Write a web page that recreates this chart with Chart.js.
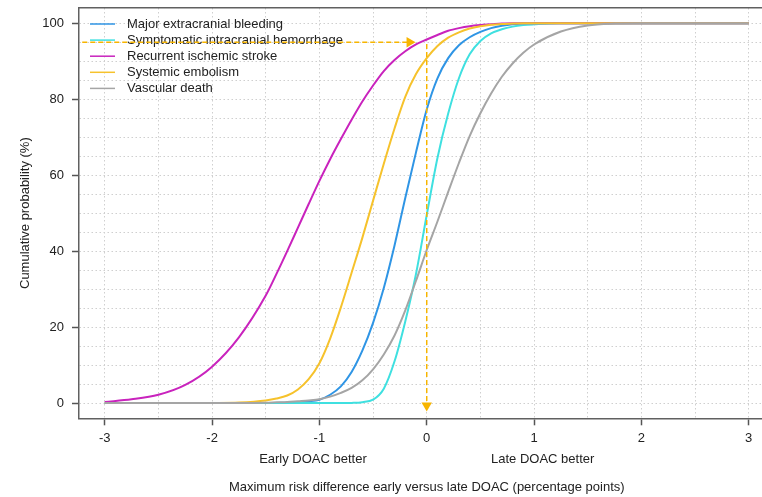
<!DOCTYPE html>
<html>
<head>
<meta charset="utf-8">
<script src="https://cdn.jsdelivr.net/npm/chart.js@4.4.1/dist/chart.umd.min.js"></script>
<style>
  html, body { margin: 0; padding: 0; background: #fff; overflow: hidden; }
  canvas { display: block; }
</style>
</head>
<body>
<canvas id="cdf-chart" width="762" height="497"></canvas>
<script>
// Risk difference grid (percentage points) shared by all curves
const riskDiff = [-3, -2.75, -2.5, -2.25, -2, -1.75, -1.5, -1.4, -1.3, -1.2, -1.1, -1, -0.9, -0.8, -0.7, -0.6, -0.5, -0.4, -0.3, -0.2, -0.1,
  0, 0.1, 0.2, 0.3, 0.4, 0.5, 0.6, 0.7, 0.8, 0.9, 1, 1.25, 1.5, 1.75, 2, 2.5, 3];

// Cumulative probability (%) per outcome
const extracranialBleeding = [0, 0, 0, 0, 0, 0, 0, 0.05, 0.1, 0.2, 0.45, 0.9, 2.2, 4.4, 8.2, 13.8, 21.1, 30.3, 41.5, 54, 66,
  77.3, 85.5, 90.8, 94.2, 96.3, 97.7, 98.7, 99.3, 99.7, 99.9, 100, 100, 100, 100, 100, 100, 100];
const intracranialHemorrhage = [0, 0, 0, 0, 0, 0, 0, 0, 0, 0, 0, 0, 0, 0, 0.05, 0.25, 0.9, 3.8, 11, 21.5, 34,
  49.5, 64.5, 76.2, 85.5, 91.8, 95.3, 97.3, 98.4, 99.1, 99.5, 99.7, 100, 100, 100, 100, 100, 100];
const ischemicStroke = [0.3, 1.0, 2.2, 4.8, 9.6, 17.3, 28.3, 34, 40, 46.2, 52.4, 58.5, 64.2, 69.5, 74.6, 79.4, 83.6, 87.4, 90.3, 92.6, 94.4,
  95.7, 96.9, 98, 98.7, 99.2, 99.5, 99.7, 99.9, 100, 100, 100, 100, 100, 100, 100, 100, 100];
const systemicEmbolism = [0, 0, 0, 0, 0.03, 0.15, 0.7, 1.2, 2.0, 3.6, 6.3, 10.5, 17, 25.2, 34.3, 43.5, 53.3, 63, 72.3, 80.6, 86.6,
  90.8, 94, 96.2, 97.6, 98.6, 99.2, 99.6, 99.8, 99.9, 100, 100, 100, 100, 100, 100, 100, 100];
const vascularDeath = [0, 0, 0, 0, 0.02, 0.05, 0.1, 0.2, 0.3, 0.5, 0.7, 1.0, 1.7, 2.7, 4.0, 6.0, 8.9, 12.8, 17.8, 24.4, 32.2,
  40.3, 47.8, 55.6, 63.2, 70.3, 76.3, 81.5, 85.9, 89.4, 92.2, 94.4, 97.8, 99.4, 99.9, 100, 100, 100];

const outcomeLabels = ['Major extracranial bleeding', 'Symptomatic intracranial hemorrhage',
  'Recurrent ischemic stroke', 'Systemic embolism', 'Vascular death'];
const outcomeValues = [extracranialBleeding, intracranialHemorrhage, ischemicStroke, systemicEmbolism, vascularDeath];
const outcomeColors = ['#2f95e5', '#3fe0e0', '#c923bd', '#f6c22c', '#a5a5a5'];

// Reference arrows: 95% level across to the stroke curve, then down at zero
const hArrowX = [-3.21, -0.16];
const hArrowY = [95, 95];
const vArrowX = [0, 0];
const vArrowY = [94.5, -0.6];

// Axis ticks and text
const xTicks = [-3, -2.5, -2, -1.5, -1, -0.5, 0, 0.5, 1, 1.5, 2, 2.5, 3];
const yTicks = [0, 5, 10, 15, 20, 25, 30, 35, 40, 45, 50, 55, 60, 65, 70, 75, 80, 85, 90, 95, 100];
const noteTicks = [-1.06, 0, 1.08];
const noteLabels = ['Early DOAC better',
  ['', '', 'Maximum risk difference early versus late DOAC (percentage points)'],
  'Late DOAC better'];

const X_MIN = -3.24, X_MAX = 3.124;
const Y_MIN = -4, Y_MAX = 104;

const FONT_FAMILY = '"Liberation Sans", Arial, Helvetica, sans-serif';
const TEXT_COLOR = '#222';
const AXIS_COLOR = '#606060';
const GRID_COLOR = '#cfcfcf';
const ARROW_COLOR = '#f7b500';
const NONE = 'rgba(0,0,0,0)';

const toPoints = (xs, ys) => xs.map((x, i) => ({ x, y: ys[i] }));

// fixed axis sizes; drop the label overhang padding so the plot box stays put
const fixSize = (key, size) => s => {
  s[key] = size;
  s.paddingTop = s.paddingBottom = s.paddingLeft = s.paddingRight = 0;
};

const curveSets = outcomeLabels.map((label, i) => ({
  label,
  data: toPoints(riskDiff, outcomeValues[i]),
  borderColor: outcomeColors[i],
  borderWidth: 2,
  pointRadius: 0,
  cubicInterpolationMode: 'monotone',
  order: outcomeLabels.length - i + 1
}));

const arrowSet = (xs, ys, rotation) => ({
  data: toPoints(xs, ys),
  borderColor: ARROW_COLOR,
  borderWidth: 1.5,
  borderDash: [5, 3],
  pointStyle: 'triangle',
  pointRadius: [0, 6],
  pointHoverRadius: 0,
  pointRotation: rotation,
  pointBackgroundColor: ARROW_COLOR,
  pointBorderWidth: 0,
  order: 0
});

// Legend in the top-left corner of the plot, drawn under the arrows
const cornerLegend = {
  id: 'cornerLegend',
  beforeDatasetsDraw(chart) {
    const { ctx, chartArea } = chart;
    ctx.save();
    ctx.font = '13px ' + FONT_FAMILY;
    ctx.textBaseline = 'middle';
    ctx.textAlign = 'left';
    chart.data.datasets.filter(ds => ds.label).forEach((ds, i) => {
      const y = chartArea.top + 16 + i * 16.1;
      ctx.strokeStyle = ds.borderColor;
      ctx.lineWidth = 1.5;
      ctx.beginPath();
      ctx.moveTo(chartArea.left + 11, y);
      ctx.lineTo(chartArea.left + 36, y);
      ctx.stroke();
      ctx.fillStyle = TEXT_COLOR;
      ctx.fillText(ds.label, chartArea.left + 48, y);
    });
    ctx.restore();
  }
};

const tickFont = { family: FONT_FAMILY, size: 13 };

new Chart(document.getElementById('cdf-chart'), {
  type: 'line',
  data: {
    datasets: [
      ...curveSets,
      arrowSet(hArrowX, hArrowY, 90),
      arrowSet(vArrowX, vArrowY, 180)
    ]
  },
  options: {
    responsive: false,
    devicePixelRatio: 1,
    animation: false,
    layout: { autoPadding: false, padding: { top: 8, left: 0, right: 0, bottom: 0 } },
    plugins: {
      legend: { display: false },
      tooltip: { enabled: false }
    },
    scales: {
      x: {
        type: 'linear',
        position: 'bottom',
        min: X_MIN,
        max: X_MAX,
        weight: 0,
        afterBuildTicks: s => { s.ticks = xTicks.map(v => ({ value: v })); },
        afterFit: fixSize('height', 28),
        ticks: {
          autoSkip: false, minRotation: 0, maxRotation: 0, padding: 5,
          color: TEXT_COLOR, font: tickFont,
          callback: v => Number.isInteger(v) ? String(v) : ''
        },
        grid: {
          color: GRID_COLOR, lineWidth: 1, tickLength: 7, tickWidth: 1.5,
          tickColor: c => (c.tick && Number.isInteger(c.tick.value)) ? '#555' : NONE
        },
        border: { color: AXIS_COLOR, width: 1.5, dash: [1.5, 2.5] }
      },
      xNote: {
        type: 'linear',
        position: 'bottom',
        min: X_MIN,
        max: X_MAX,
        weight: 1,
        afterBuildTicks: s => { s.ticks = noteTicks.map(v => ({ value: v })); },
        afterFit: fixSize('height', 50.7),
        ticks: {
          autoSkip: false, minRotation: 0, maxRotation: 0, padding: 5.7,
          color: TEXT_COLOR, font: { family: FONT_FAMILY, size: 13, lineHeight: '14px' },
          callback: (v, i) => noteLabels[i]
        },
        grid: { display: false, drawTicks: false },
        border: { display: false }
      },
      xTop: {
        type: 'linear',
        position: 'top',
        min: X_MIN,
        max: X_MAX,
        afterFit: fixSize('height', 0),
        ticks: { display: false },
        grid: { display: false, drawTicks: false },
        border: { color: AXIS_COLOR, width: 1.5 }
      },
      y: {
        type: 'linear',
        min: Y_MIN,
        max: Y_MAX,
        afterBuildTicks: s => { s.ticks = yTicks.map(v => ({ value: v })); },
        afterFit: fixSize('width', 79),
        ticks: {
          padding: 8, color: TEXT_COLOR, font: tickFont,
          callback: v => v % 20 === 0 ? String(v) : ''
        },
        grid: {
          color: GRID_COLOR, lineWidth: 1, tickLength: 7, tickWidth: 1.5,
          tickColor: c => (c.tick && c.tick.value % 20 === 0) ? '#555' : NONE
        },
        border: { color: AXIS_COLOR, width: 1.5, dash: [1.5, 2.5] },
        title: {
          display: true,
          text: 'Cumulative probability (%)',
          color: TEXT_COLOR,
          font: tickFont,
          padding: { top: 18, bottom: 0 }
        }
      }
    }
  },
  plugins: [cornerLegend]
});
</script>
</body>
</html>
